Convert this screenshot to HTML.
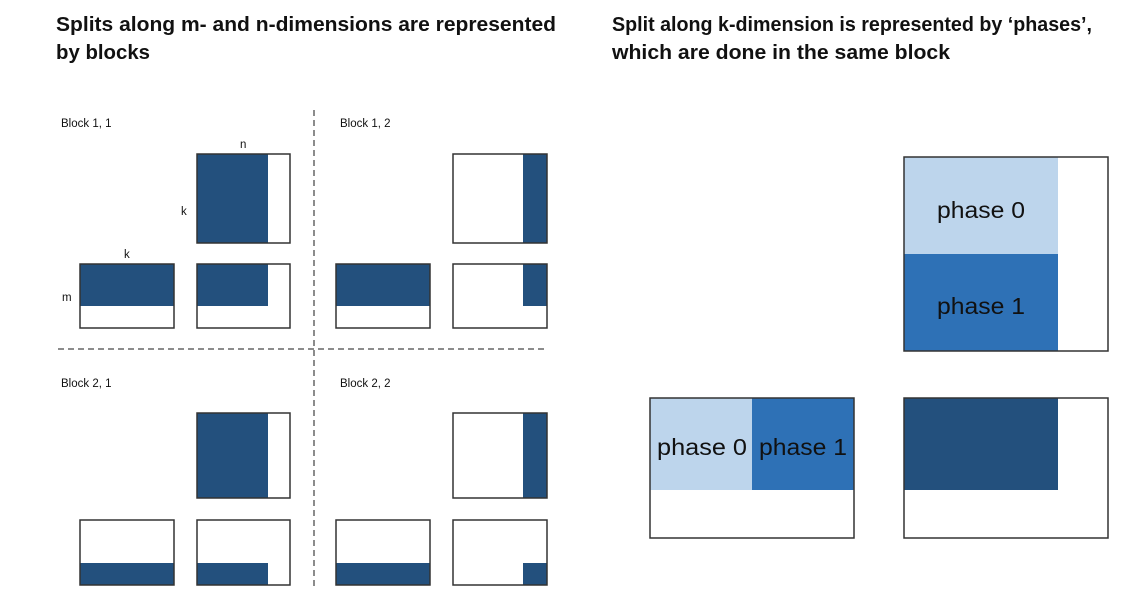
<!DOCTYPE html>
<html><head><meta charset="utf-8"><style>
html,body{margin:0;padding:0;background:#fff;}
svg{display:block;}
text{font-family:"Liberation Sans",sans-serif;fill:#111;}
</style></head><body>
<svg width="1138" height="600" viewBox="0 0 1138 600" xmlns="http://www.w3.org/2000/svg">
<g font-weight="bold" font-size="20">
<text x="56" y="31" textLength="500" lengthAdjust="spacingAndGlyphs">Splits along m- and n-dimensions are represented</text>
<text x="56" y="59" textLength="94" lengthAdjust="spacingAndGlyphs">by blocks</text>
<text x="612" y="31" textLength="480" lengthAdjust="spacingAndGlyphs">Split along k-dimension is represented by ‘phases’,</text>
<text x="612" y="59" textLength="338" lengthAdjust="spacingAndGlyphs">which are done in the same block</text>
</g>
<g font-size="11.5" style="fill:#222">
<text x="61" y="127">Block 1, 1</text>
<text x="340" y="127">Block 1, 2</text>
<text x="61" y="387">Block 2, 1</text>
<text x="340" y="387">Block 2, 2</text>
<text x="240" y="148">n</text>
<text x="181" y="215">k</text>
<text x="124" y="258">k</text>
<text x="62" y="301">m</text>
</g>
<g stroke="#666" stroke-width="1.5" stroke-dasharray="6,4" fill="none">
<line x1="314" y1="110" x2="314" y2="586"/>
<line x1="58" y1="349" x2="548" y2="349"/>
</g>
<g fill="#23507d">
<rect x="197" y="154" width="71" height="89"/>
<rect x="80" y="264" width="94" height="42"/>
<rect x="197" y="264" width="71" height="42"/>
<rect x="523" y="154" width="24" height="89"/>
<rect x="336" y="264" width="94" height="42"/>
<rect x="523" y="264" width="24" height="42"/>
<rect x="197" y="413" width="71" height="85"/>
<rect x="80" y="563" width="94" height="22"/>
<rect x="197" y="563" width="71" height="22"/>
<rect x="523" y="413" width="24" height="85"/>
<rect x="336" y="563" width="94" height="22"/>
<rect x="523" y="563" width="24" height="22"/>
<rect x="904" y="398" width="154" height="92"/>
</g>
<rect x="904" y="157" width="154" height="97" fill="#bdd5ec"/>
<rect x="904" y="254" width="154" height="97" fill="#2e71b6"/>
<rect x="650" y="398" width="102" height="92" fill="#bdd5ec"/>
<rect x="752" y="398" width="102" height="92" fill="#2e71b6"/>
<g fill="none" stroke="#333" stroke-width="1.5">
<rect x="197" y="154" width="93" height="89"/>
<rect x="80" y="264" width="94" height="64"/>
<rect x="197" y="264" width="93" height="64"/>
<rect x="453" y="154" width="94" height="89"/>
<rect x="336" y="264" width="94" height="64"/>
<rect x="453" y="264" width="94" height="64"/>
<rect x="197" y="413" width="93" height="85"/>
<rect x="80" y="520" width="94" height="65"/>
<rect x="197" y="520" width="93" height="65"/>
<rect x="453" y="413" width="94" height="85"/>
<rect x="336" y="520" width="94" height="65"/>
<rect x="453" y="520" width="94" height="65"/>
<rect x="904" y="157" width="204" height="194"/>
<rect x="650" y="398" width="204" height="140"/>
<rect x="904" y="398" width="204" height="140"/>
</g>
<g font-size="23" text-anchor="middle">
<text x="981" y="218" textLength="88" lengthAdjust="spacingAndGlyphs">phase 0</text>
<text x="981" y="314" textLength="88" lengthAdjust="spacingAndGlyphs">phase 1</text>
<text x="702" y="455" textLength="90" lengthAdjust="spacingAndGlyphs">phase 0</text>
<text x="803" y="455" textLength="88" lengthAdjust="spacingAndGlyphs">phase 1</text>
</g>
</svg>
</body></html>
